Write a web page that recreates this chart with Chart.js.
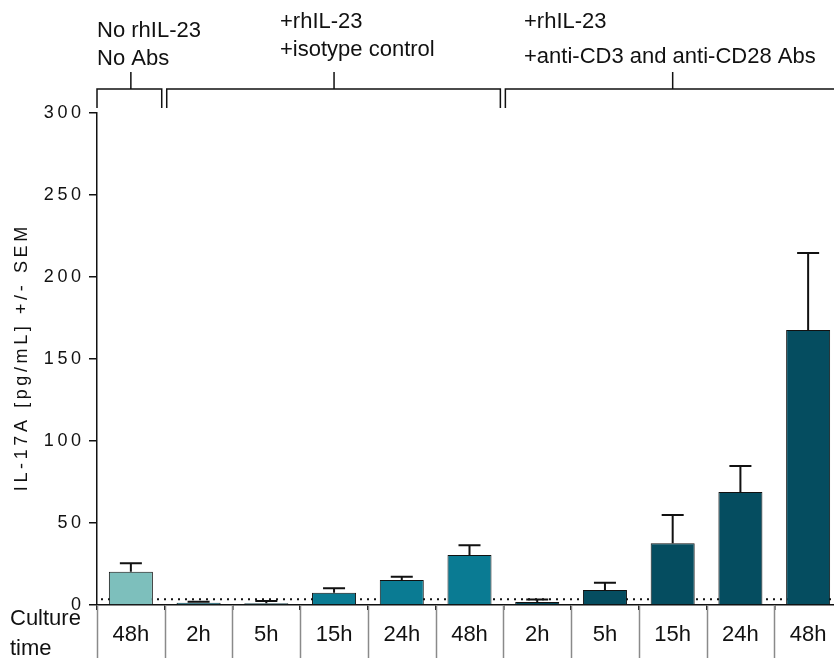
<!DOCTYPE html>
<html>
<head>
<meta charset="utf-8">
<title>IL-17A culture time</title>
<script src="https://cdn.jsdelivr.net/npm/chart.js@4.4.1/dist/chart.umd.min.js"></script>
<style>
  html, body { margin: 0; padding: 0; background: #fff; overflow: hidden; }
  #wrap { width: 842px; height: 658px; }
</style>
</head>
<body>
<div id="wrap"><canvas id="chart" width="842" height="658"></canvas></div>
<script>
// ---- data ----
const CATEGORIES = ['48h', '2h', '5h', '15h', '24h', '48h', '2h', '5h', '15h', '24h', '48h'];
const MEANS = [20.3, 1.4, 1.0, 7.5, 15.2, 30.5, 1.8, 9.1, 37.7, 68.9, 167.7];
const SEMS = [5.1, 0.6, 1.4, 2.7, 2.1, 5.9, 1.6, 4.5, 17.2, 15.9, 46.9];
const BAR_GROUP = [0, 1, 1, 1, 1, 1, 2, 2, 2, 2, 2];
const GROUP_COLORS = ['#7dbfbc', '#0a7b93', '#054d60'];
const GROUP_RANGES = [[0, 0], [1, 5], [6, 10]];
const GROUP_LABELS = [
  ['No rhIL-23', 'No Abs'],
  ['+rhIL-23', '+isotype control'],
  ['+rhIL-23', '+anti-CD3 and anti-CD28 Abs']
];
const Y_MIN = 0, Y_MAX = 300, Y_STEP = 50;
const DETECTION_LIMIT = 3.5;
const Y_TITLE = 'IL-17A [pg/mL] +/- SEM';
const X_TITLE = ['Culture', 'time'];

const FONT = '"Liberation Sans", Arial, sans-serif';

// letter-spaced text like the original figure
const spaced = s => s.split('').join('\u2009');

// dotted detection line behind the bars
const limitLine = {
  id: 'limitLine',
  beforeDatasetsDraw(chart) {
    const { ctx, chartArea, scales: { y } } = chart;
    const py = y.getPixelForValue(DETECTION_LIMIT);
    ctx.save();
    ctx.strokeStyle = '#111';
    ctx.lineWidth = 2;
    ctx.setLineDash([2, 5]);
    ctx.beginPath();
    ctx.moveTo(chartArea.left + 4, py);
    ctx.lineTo(chartArea.right, py);
    ctx.stroke();
    ctx.restore();
  }
};

// upper SEM whiskers
const errorBars = {
  id: 'errorBars',
  afterDatasetsDraw(chart) {
    const { ctx, scales: { y } } = chart;
    const meta = chart.getDatasetMeta(0);
    ctx.save();
    ctx.strokeStyle = '#111';
    ctx.lineWidth = 2;
    meta.data.forEach((bar, i) => {
      const top = y.getPixelForValue(MEANS[i] + SEMS[i]);
      const half = bar.width / 4;
      ctx.beginPath();
      ctx.moveTo(bar.x, bar.y);
      ctx.lineTo(bar.x, top);
      ctx.moveTo(bar.x - half, top);
      ctx.lineTo(bar.x + half, top);
      ctx.stroke();
    });
    ctx.restore();
  }
};

// group brackets on top, separators and "Culture time" below
const decorations = {
  id: 'decorations',
  afterDraw(chart) {
    const { ctx, chartArea, scales: { x } } = chart;
    const step = x.getPixelForValue(1) - x.getPixelForValue(0);
    const edge = i => x.getPixelForValue(i) - step / 2;

    // separators under the axis
    ctx.save();
    ctx.strokeStyle = '#8a8a8a';
    ctx.lineWidth = 1.5;
    for (let i = 0; i <= CATEGORIES.length; i++) {
      const px = Math.round(edge(i)) + 0.5;
      ctx.beginPath();
      ctx.moveTo(px, chartArea.bottom);
      ctx.lineTo(px, chart.height);
      ctx.stroke();
    }
    ctx.restore();

    // brackets
    const lineY = 89, endY = 108, tickY = 72;
    const textX = [97, 280, 524];
    const baselines = [[37, 65], [28, 56], [28, 63]];
    ctx.save();
    ctx.strokeStyle = '#111';
    ctx.lineWidth = 1.5;
    GROUP_RANGES.forEach(([a, b], g) => {
      const left = g === 0 ? chartArea.left : edge(a) + 2;
      const right = edge(b + 1) - 3;
      const mid = (x.getPixelForValue(a) + x.getPixelForValue(b)) / 2;
      ctx.beginPath();
      ctx.moveTo(left, endY);
      ctx.lineTo(left, lineY);
      ctx.lineTo(right, lineY);
      ctx.lineTo(right, endY);
      ctx.moveTo(mid, lineY);
      ctx.lineTo(mid, tickY);
      ctx.stroke();
    });
    ctx.fillStyle = '#111';
    ctx.font = '22px ' + FONT;
    ctx.textAlign = 'left';
    ctx.textBaseline = 'alphabetic';
    GROUP_LABELS.forEach((lines, g) => {
      lines.forEach((t, k) => ctx.fillText(t, textX[g], baselines[g][k]));
    });
    ctx.fillText(X_TITLE[0], 10, 625);
    ctx.fillText(X_TITLE[1], 10, 655);
    ctx.restore();
  }
};

new Chart(document.getElementById('chart'), {
  type: 'bar',
  data: {
    labels: CATEGORIES,
    datasets: [{
      data: MEANS,
      backgroundColor: BAR_GROUP.map(g => GROUP_COLORS[g]),
      borderColor: '#111',
      borderWidth: 1,
      barPercentage: 0.65,
      categoryPercentage: 1
    }]
  },
  options: {
    responsive: false,
    animation: false,
    layout: { padding: { top: 113, left: 0, right: 0, bottom: 0 } },
    plugins: { legend: { display: false }, tooltip: { enabled: false } },
    scales: {
      x: {
        afterFit: s => { s.height = 53; },
        grid: { drawOnChartArea: false, drawTicks: true, tickLength: 5, color: '#111', lineWidth: 1.5 },
        border: { display: true, color: '#111', width: 1.5 },
        ticks: { color: '#111', padding: 12, font: { family: FONT, size: 22 }, maxRotation: 0, autoSkip: false }
      },
      y: {
        min: Y_MIN, max: Y_MAX,
        afterFit: s => { s.width = 97; },
        grid: { drawOnChartArea: false, drawTicks: true, tickLength: 8, color: '#111', lineWidth: 1.5 },
        border: { display: true, color: '#111', width: 1.5 },
        ticks: {
          stepSize: Y_STEP, color: '#111', padding: 8,
          font: { family: FONT, size: 18 },
          callback: v => spaced(String(v))
        },
        title: {
          display: true, text: spaced(Y_TITLE), color: '#111',
          font: { family: FONT, size: 18 }, padding: { top: 11, bottom: 0 }
        }
      }
    }
  },
  plugins: [limitLine, errorBars, decorations]
});
</script>
</body>
</html>
